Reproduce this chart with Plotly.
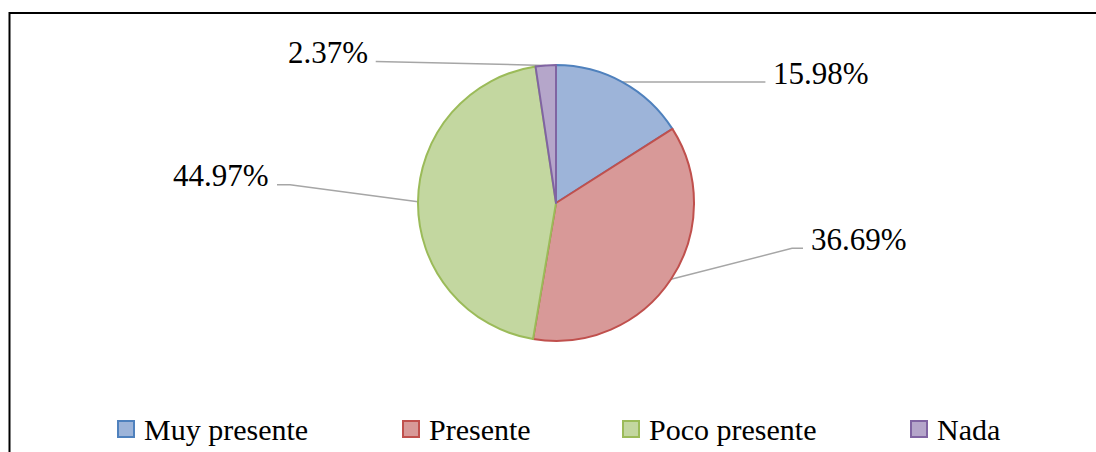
import math
import plotly.graph_objects as go

# ---- data ----
categories = ["Muy presente", "Presente", "Poco presente", "Nada"]
values = [15.98, 36.69, 44.97, 2.37]

# ---- style ----
fill_colors = ["#9DB4D9", "#D89998", "#C3D7A0", "#B5A6CA"]
edge_colors = ["#4F81BD", "#C0504D", "#9BBB59", "#8064A2"]
W, H = 1096, 452
CX, CY, R = 556, 203, 138          # pie centre / radius in px
FONT = "Tinos"
LABEL_SIZE = 31
LEGEND_SIZE = 30
# leader line: elbow offset from slice anchor (dx, dy), then horizontal tail
leader_elbow = [(143, 0), (121, -31), (-128, -17), (-170, -4)]
leader_tail = [0, 11, -13, 0]
legend_x = [118, 403, 623, 911]     # px, left of each swatch
legend_y = 429
SW = 16

fig = go.Figure()

# frame (pixel coordinates on a hidden axis spanning the whole page)
fig.add_trace(go.Scatter(x=[9.5, 9.5, W + 10], y=[H + 10, 13, 13], mode="lines",
                         line=dict(color="black", width=2), hoverinfo="skip", showlegend=False))

ann = []
total = sum(values)
cum = 0.0
for i, v in enumerate(values):
    mid = (cum + v / 2) / total * 2 * math.pi
    cum += v
    ax = CX + R * math.sin(mid)
    ay = CY - R * math.cos(mid)
    ex = ax + leader_elbow[i][0]
    ey = ay + leader_elbow[i][1]
    tx = ex + leader_tail[i]
    fig.add_trace(go.Scatter(x=[ax, ex, tx], y=[ay, ey, ey], mode="lines",
                             line=dict(color="#A6A6A6", width=1.5), hoverinfo="skip", showlegend=False))
    right = leader_elbow[i][0] > 0
    ann.append(dict(
        x=tx + (6 if right else -6), y=ey - 9, xref="x", yref="y",
        xanchor="left" if right else "right", yanchor="middle",
        text=f"{v:.2f}%", showarrow=False,
        font=dict(family=FONT, size=LABEL_SIZE, color="#000000"),
    ))

# legend
for i, name in enumerate(categories):
    x0 = legend_x[i]
    fig.add_trace(go.Scatter(x=[x0 + SW / 2], y=[legend_y], mode="markers",
                             marker=dict(symbol="square", size=SW, color=fill_colors[i],
                                         line=dict(color=edge_colors[i], width=2)),
                             hoverinfo="skip", showlegend=False))
    ann.append(dict(
        x=x0 + SW + 8, y=legend_y, xref="x", yref="y",
        xanchor="left", yanchor="middle", text=name, showarrow=False,
        font=dict(family=FONT, size=LEGEND_SIZE, color="#000000"),
    ))

fig.add_trace(go.Pie(
    labels=categories,
    values=values,
    sort=False,
    direction="clockwise",
    textinfo="none",
    showlegend=False,
    marker=dict(colors=fill_colors, line=dict(color=edge_colors, width=2)),
    domain=dict(x=[(CX - R) / W, (CX + R) / W], y=[1 - (CY + R) / H, 1 - (CY - R) / H]),
))

fig.update_layout(
    width=W, height=H, margin=dict(l=0, r=0, t=0, b=0),
    font=dict(family=FONT),
    annotations=ann, paper_bgcolor="white", plot_bgcolor="rgba(0,0,0,0)",
    xaxis=dict(range=[0, W], visible=False, fixedrange=True),
    yaxis=dict(range=[H, 0], visible=False, fixedrange=True),
)
fig.write_html("out.html")
